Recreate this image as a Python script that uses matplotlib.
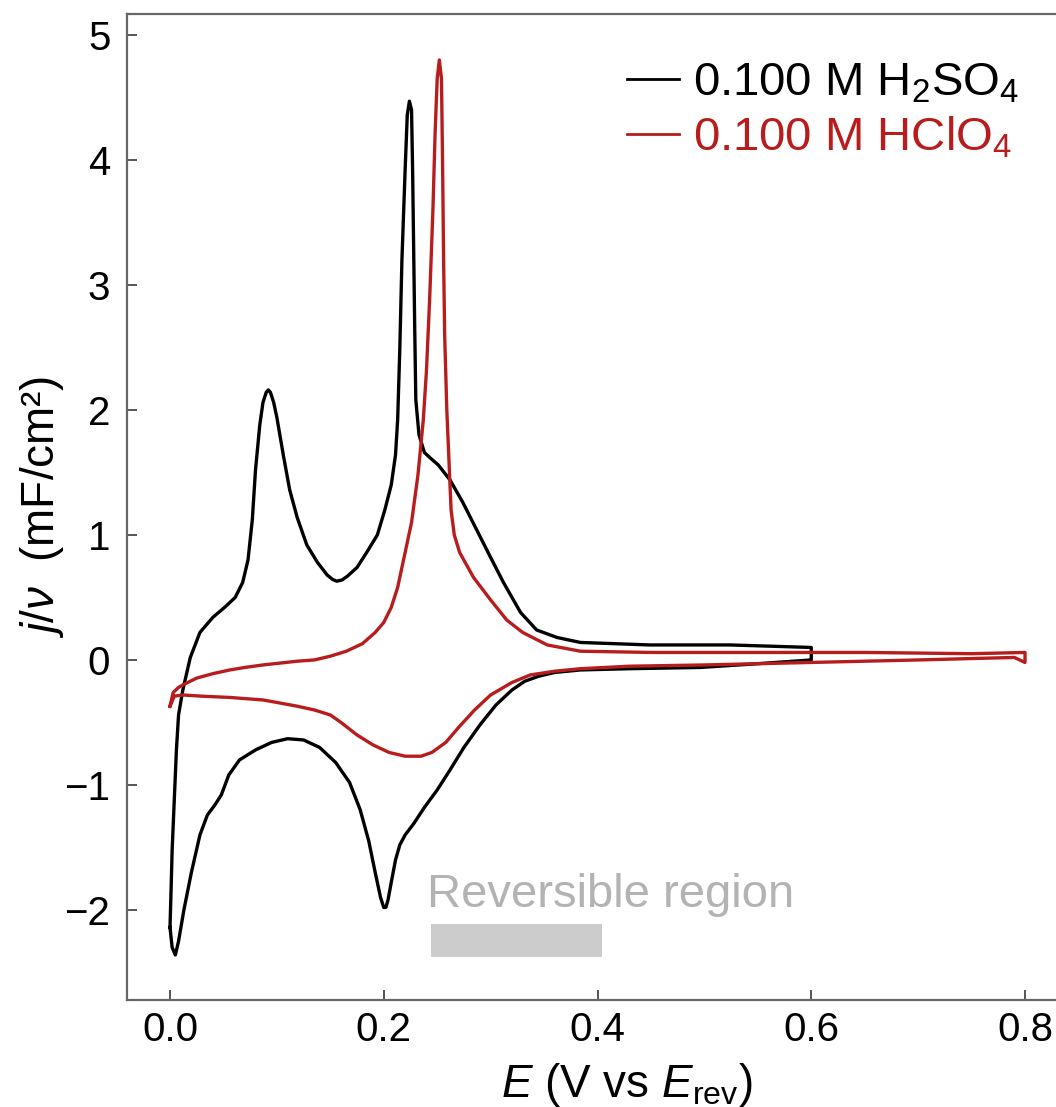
import matplotlib.pyplot as plt
import matplotlib.patches as mpatches

plt.rcParams["font.family"] = ["Liberation Sans", "DejaVu Sans"]
plt.rcParams["mathtext.fontset"] = "custom"
plt.rcParams["mathtext.rm"] = "Liberation Sans"
plt.rcParams["mathtext.it"] = "Liberation Sans:italic"

# ── H2SO4 loop (anodic then cathodic), E in V, j/v in mF/cm2 ──
h2so4_E = [0.000, 0.001, 0.002, 0.004, 0.006, 0.008, 0.012, 0.019, 0.028, 0.040,
           0.051, 0.061, 0.068, 0.073, 0.077, 0.080, 0.084, 0.087, 0.090, 0.092,
           0.094, 0.097, 0.100, 0.106, 0.112, 0.119, 0.128, 0.138, 0.147, 0.152,
           0.156, 0.161, 0.166, 0.175, 0.184, 0.194, 0.201, 0.207, 0.211, 0.213,
           0.215, 0.217, 0.220, 0.222, 0.224, 0.226, 0.227, 0.228, 0.229, 0.230,
           0.233, 0.238, 0.243, 0.251, 0.262, 0.274, 0.287, 0.300, 0.312, 0.328,
           0.343, 0.362, 0.384, 0.449, 0.524, 0.600, 0.600, 0.550, 0.496, 0.430,
           0.384, 0.360, 0.345, 0.332, 0.320, 0.305, 0.290, 0.275, 0.262, 0.250,
           0.238, 0.228, 0.220, 0.215, 0.211, 0.207, 0.204, 0.202, 0.200, 0.197,
           0.192, 0.186, 0.178, 0.168, 0.155, 0.140, 0.125, 0.110, 0.095, 0.080,
           0.065, 0.055, 0.048, 0.042, 0.035, 0.028, 0.020, 0.013, 0.008, 0.005,
           0.002, 0.000]
h2so4_j = [-2.14, -1.84, -1.52, -1.12, -0.72, -0.44, -0.24, 0.02, 0.22, 0.34,
           0.42, 0.50, 0.62, 0.80, 1.12, 1.52, 1.88, 2.06, 2.14, 2.16,
           2.14, 2.06, 1.94, 1.64, 1.36, 1.14, 0.92, 0.78, 0.68, 0.645,
           0.63, 0.64, 0.67, 0.74, 0.86, 1.00, 1.20, 1.40, 1.64, 1.92,
           2.48, 3.20, 3.92, 4.36, 4.47, 4.40, 3.92, 3.28, 2.64, 2.08,
           1.80, 1.66, 1.62, 1.56, 1.44, 1.26, 1.04, 0.82, 0.62, 0.38,
           0.24, 0.18, 0.14, 0.12, 0.12, 0.10, 0.00, -0.03, -0.06, -0.07,
           -0.08, -0.10, -0.13, -0.17, -0.24, -0.36, -0.52, -0.70, -0.88, -1.04,
           -1.18, -1.31, -1.40, -1.48, -1.60, -1.78, -1.92, -1.98, -1.98, -1.90,
           -1.70, -1.45, -1.20, -0.98, -0.82, -0.70, -0.64, -0.63, -0.66, -0.72,
           -0.80, -0.92, -1.08, -1.16, -1.24, -1.40, -1.70, -2.00, -2.25, -2.36,
           -2.30, -2.14]

# ── HClO4 loop ──
hclo4_E = [0.000, 0.003, 0.008, 0.012, 0.025, 0.040, 0.056, 0.070, 0.087, 0.103,
           0.119, 0.135, 0.150, 0.165, 0.180, 0.192, 0.200, 0.207, 0.213, 0.219,
           0.226, 0.232, 0.237, 0.240, 0.243, 0.246, 0.248, 0.250, 0.252, 0.254,
           0.255, 0.256, 0.257, 0.259, 0.261, 0.263, 0.266, 0.271, 0.284, 0.300,
           0.315, 0.330, 0.353, 0.384, 0.450, 0.550, 0.650, 0.750, 0.800, 0.800,
           0.790, 0.700, 0.600, 0.500, 0.430, 0.384, 0.360, 0.337, 0.320, 0.300,
           0.285, 0.270, 0.258, 0.245, 0.235, 0.220, 0.205, 0.190, 0.175, 0.160,
           0.150, 0.135, 0.119, 0.100, 0.087, 0.056, 0.030, 0.012, 0.004, 0.000]
hclo4_j = [-0.37, -0.26, -0.22, -0.20, -0.145, -0.11, -0.08, -0.06, -0.04, -0.025,
           -0.01, 0.00, 0.03, 0.07, 0.13, 0.22, 0.30, 0.42, 0.58, 0.82,
           1.10, 1.48, 1.92, 2.32, 2.90, 3.60, 4.20, 4.65, 4.80, 4.65,
           4.00, 3.20, 2.60, 2.00, 1.60, 1.20, 1.00, 0.86, 0.66, 0.48,
           0.32, 0.22, 0.12, 0.07, 0.06, 0.06, 0.06, 0.05, 0.06, -0.02,
           0.02, 0.00, -0.02, -0.04, -0.05, -0.07, -0.09, -0.12, -0.18, -0.28,
           -0.40, -0.54, -0.66, -0.74, -0.77, -0.77, -0.74, -0.68, -0.60, -0.50,
           -0.44, -0.40, -0.37, -0.34, -0.32, -0.30, -0.29, -0.28, -0.29, -0.37]

labels = [r"0.100 M H$_2$SO$_4$", r"0.100 M HClO$_4$"]
colors = ["black", "#b81d1d"]

# reversible region bar
rev_start, rev_end = 0.244, 0.404
rev_low, rev_high = -2.38, -2.11

fig = plt.figure(figsize=(10.56, 11.07), dpi=100)
ax = fig.add_axes([0.1203, 0.0967, 0.8797, 0.8907])

ax.plot(h2so4_E, h2so4_j, color=colors[0], lw=2.4, label=labels[0])
ax.plot(hclo4_E, hclo4_j, color=colors[1], lw=2.4, label=labels[1])

ax.add_patch(mpatches.Rectangle((rev_start, rev_low), rev_end - rev_start,
                                rev_high - rev_low, color="#cccccc", lw=0))
ax.text(rev_start - 0.004, -1.88, "Reversible region", fontsize=34,
        color="#b3b3b3", va="center", ha="left")

ax.set_xlim(-0.0402, 0.829)
ax.set_ylim(-2.72, 5.168)
ax.set_xticks([0.0, 0.2, 0.4, 0.6, 0.8])
ax.set_xticklabels(["0.0", "0.2", "0.4", "0.6", "0.8"])
ax.set_yticks([-2, -1, 0, 1, 2, 3, 4, 5])
ax.set_yticklabels(["\u22122", "\u22121", "0", "1", "2", "3", "4", "5"])

for s in ["left", "bottom", "top"]:
    ax.spines[s].set_color("#666666")
    ax.spines[s].set_linewidth(1.6)
ax.spines["right"].set_visible(False)
ax.tick_params(direction="in", length=7, width=1.4, color="#555555",
               labelsize=29)
ax.tick_params(axis="y", pad=12)
ax.tick_params(axis="x", pad=8)

ax.set_xlabel(r"$E$ (V vs $E_{\mathrm{rev}}$)", fontsize=33)
ax.xaxis.set_label_coords(0.538, -0.062)
ax.set_ylabel(r"$j/\nu$  (mF/cm²)", fontsize=33)
ax.yaxis.set_label_coords(-0.066, 0.5)

leg = ax.legend(loc="upper right", bbox_to_anchor=(1.006, 0.995), frameon=False,
                fontsize=34, handlelength=1.1, handletextpad=0.3,
                labelspacing=0.2, labelcolor="linecolor")
for line in leg.get_lines():
    line.set_linewidth(2.0)

plt.savefig("out.png", dpi=100)
